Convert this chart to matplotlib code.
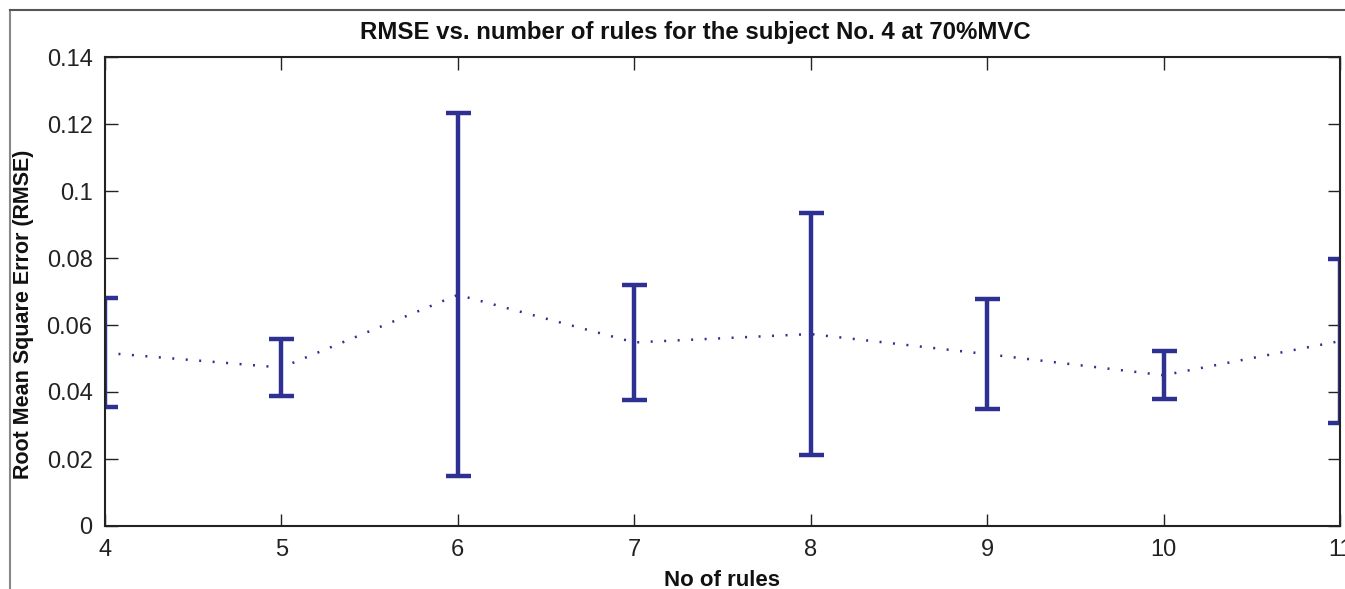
import matplotlib
matplotlib.use("Agg")
import matplotlib.pyplot as plt
from matplotlib.lines import Line2D

# number of rules and RMSE (mean +/- error)
rules = [4, 5, 6, 7, 8, 9, 10, 11]
rmse = [0.0517, 0.0473, 0.0690, 0.0548, 0.0573, 0.0513, 0.0450, 0.0552]
err = [0.0163, 0.0085, 0.0542, 0.0171, 0.0361, 0.0165, 0.0071, 0.0245]

yticks = [0, 0.02, 0.04, 0.06, 0.08, 0.1, 0.12, 0.14]
ytick_labels = ["0", "0.02", "0.04", "0.06", "0.08", "0.1", "0.12", "0.14"]

blue = "#2e3192"
plt.rcParams["font.family"] = ["Liberation Sans", "DejaVu Sans"]

fig = plt.figure(figsize=(13.45, 5.89), dpi=100)
ax = fig.add_axes([105 / 1345, 63 / 589, 1235 / 1345, 469 / 589])

# outer frame of the original figure (cropped on the right)
fig.add_artist(Line2D([10 / 1345, 10 / 1345], [0, 579 / 589],
                      transform=fig.transFigure, color="#888888", lw=1.5))
fig.add_artist(Line2D([10 / 1345, 1], [579 / 589, 579 / 589],
                      transform=fig.transFigure, color="#555555", lw=1.5))

ax.errorbar(rules, rmse, yerr=err, fmt="none", ecolor=blue,
            elinewidth=3.2, capsize=9, capthick=3.2)
ax.plot(rules, rmse, color=blue, lw=1.8, linestyle=(0, (0.8, 4.6)))

ax.set_xlim(4, 11)
ax.set_ylim(0, 0.14)
ax.set_xticks(rules)
ax.set_yticks(yticks)
ax.set_yticklabels(ytick_labels)
ax.tick_params(direction="in", length=9, width=1, top=True, right=True,
               labelsize=17, colors="#222222", pad=9)
for s in ax.spines.values():
    s.set_linewidth(1.5)
    s.set_color("#222222")

ax.set_title("RMSE vs. number of rules for the subject No. 4 at 70%MVC",
             fontweight="bold", fontsize=17.3, pad=13, color="#111111",
             x=0.478)
ax.set_xlabel("No of rules", fontweight="bold", fontsize=16, labelpad=7,
              color="#111111")
ax.set_ylabel("Root Mean Square Error (RMSE)", fontweight="bold",
              fontsize=15.5, color="#111111")
ax.yaxis.set_label_coords(-0.0575, 0.452)

fig.savefig("out.png", dpi=100)
